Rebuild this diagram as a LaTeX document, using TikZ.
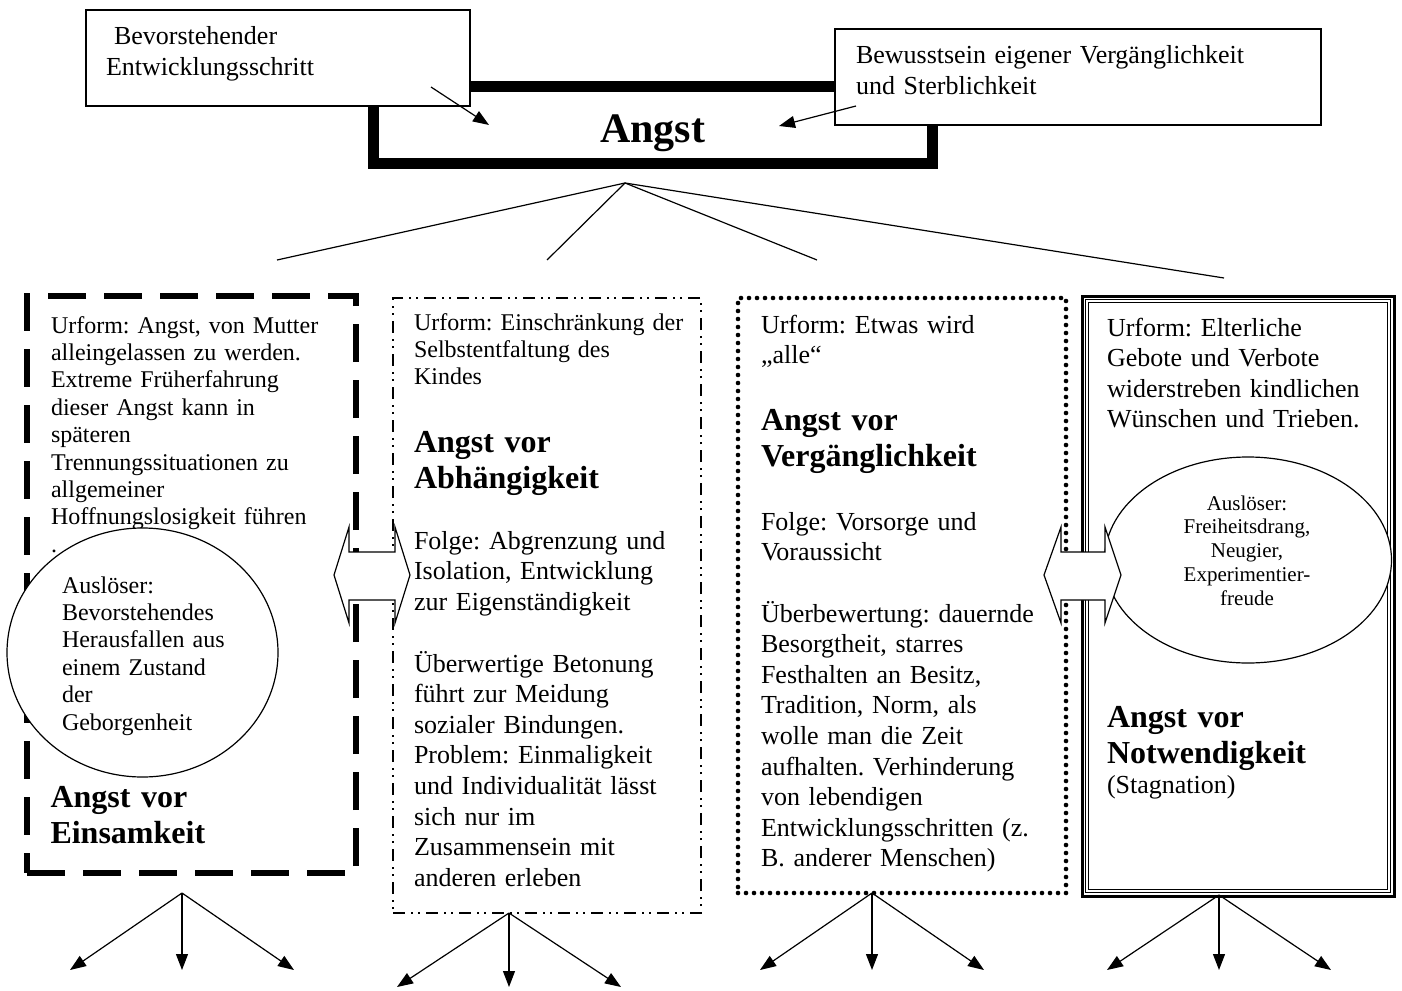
\documentclass[tikz,border=0pt]{standalone}
\usepackage{fontspec}
\setmainfont{Liberation Serif}
\usetikzlibrary{shapes.geometric, arrows.meta}
\frenchspacing

\begin{document}
\begin{tikzpicture}[x=0.5pt, y=-0.5pt,
  every node/.style={inner sep=0pt, outer sep=0pt},
  topbox/.style={draw, line width=0.6pt, fill=white},
  twelve/.style={anchor=base west, text width=200pt, align=left, font=\fontsize{12}{13.7}\selectfont},
  thirteen/.style={anchor=base west, text width=200pt, align=left, font=\fontsize{13}{15.3}\selectfont},
  heading/.style={anchor=base west, text width=200pt, align=left, font=\fontsize{16}{18}\selectfont\bfseries},
  bubble/.style={ellipse, draw, fill=white, line width=0.6pt},
  link/.style={line width=0.6pt},
  pointer/.style={line width=0.6pt, -{Triangle[length=8pt, width=6pt]}},
  twoway/.style={draw, fill=white, line width=0.6pt, line join=miter}]
\useasboundingbox (0,0) rectangle (1402,990);

% central box
\node[draw, line width=5.5pt, minimum width=279.5pt, minimum height=38pt] (angst) at (653,125) {};
\node[anchor=base west, font=\fontsize{21}{25}\selectfont\bfseries] (angstlabel) at (600,142) {Angst};

% triggers on top
\node[topbox, minimum width=192pt, minimum height=48pt] (steps) at (278,58) {};
\node[thirteen] (stepstext) at (106,45) {\hspace*{4pt}Bevorstehender\\Entwicklungsschritt};
\node[topbox, minimum width=243pt, minimum height=48pt] (mortal) at (1078,77) {};
\node[thirteen] (mortaltext) at (856,64) {Bewusstsein eigener Vergänglichkeit\\und Sterblichkeit};
\coordinate (stepsout) at (431,87);
\coordinate (stepsin) at (489,125);
\coordinate (mortalout) at (856,106);
\coordinate (mortalin) at (779,126);
\draw[pointer] (stepsout) -- (stepsin);
\draw[pointer] (mortalout) -- (mortalin);

% fan to the four forms
\coordinate (root) at (625,183);
\coordinate (fan1) at (277,260);
\coordinate (fan2) at (547,260);
\coordinate (fan3) at (817,260);
\coordinate (fan4) at (1224,278);
\foreach \i in {1,...,4}
  \draw[link] (root) -- (fan\i);

% panels
\node[draw, line width=3pt, dash pattern=on 19pt off 9pt, minimum width=164.5pt, minimum height=288.5pt] (lonely) at (191.5,584.5) {};
\node[draw, line width=0.6pt, dash pattern=on 6pt off 3pt on 1pt off 2.5pt on 1pt off 3pt, minimum width=154pt, minimum height=307.5pt] (depend) at (547,605.5) {};
\node[draw, line width=2.3pt, line cap=round, dash pattern=on 0pt off 4pt, minimum width=164pt, minimum height=297.5pt] (transient) at (902,595.5) {};
\node[draw, line width=1.5pt, minimum width=156pt, minimum height=300pt] (necessity) at (1238,596) {};
\draw[line width=0.5pt] ([shift={(3.5,3.5)}]necessity.north west) rectangle ([shift={(-3.5,-3.5)}]necessity.south east);
\draw[line width=0.5pt] ([shift={(6.5,6.5)}]necessity.north west) rectangle ([shift={(-6.5,-6.5)}]necessity.south east);

% panel 1
\node[twelve] (lonelyurform) at (51,333) {Urform: Angst, von Mutter\\alleingelassen zu werden.\\Extreme Früherfahrung\\dieser Angst kann in\\späteren\\Trennungssituationen zu\\allgemeiner\\Hoffnungslosigkeit führen\\.};
\node[bubble, minimum width=135.5pt, minimum height=124.5pt] (lonelytrigger) at (142.5,652.5) {};
\node[twelve] (lonelytriggertext) at (62,593) {Auslöser:\\Bevorstehendes\\Herausfallen aus\\einem Zustand\\der\\Geborgenheit};
\node[heading] (lonelyhead) at (50.5,807) {Angst vor\\Einsamkeit};

% panel 2
\node[twelve] (dependurform) at (414,330) {Urform: Einschränkung der\\Selbstentfaltung des\\Kindes};
\node[heading] (dependhead) at (414,452) {Angst vor\\Abhängigkeit};
\node[thirteen] (dependfolge) at (414,549) {Folge: Abgrenzung und\\Isolation, Entwicklung\\zur Eigenständigkeit};
\node[thirteen] (dependover) at (414,672) {Überwertige Betonung\\führt zur Meidung\\sozialer Bindungen.\\Problem: Einmaligkeit\\und Individualität lässt\\sich nur im\\Zusammensein mit\\anderen erleben};

% panel 3
\node[thirteen] (transienturform) at (761,333) {Urform: Etwas wird\\„alle“};
\node[heading] (transienthead) at (761,430) {Angst vor\\Vergänglichkeit};
\node[thirteen] (transientfolge) at (761,530) {Folge: Vorsorge und\\Voraussicht};
\node[thirteen] (transientover) at (761,622) {Überbewertung: dauernde\\Besorgtheit, starres\\Festhalten an Besitz,\\Tradition, Norm, als\\wolle man die Zeit\\aufhalten. Verhinderung\\von lebendigen\\Entwicklungsschritten (z.\\B. anderer Menschen)};

% panel 4
\node[thirteen] (necessityurform) at (1107,336) {Urform: Elterliche\\Gebote und Verbote\\widerstreben kindlichen\\Wünschen und Trieben.};
\node[bubble, minimum width=143.5pt, minimum height=103pt] (necessitytrigger) at (1248,560) {};
\node[anchor=base, text width=120pt, align=center, font=\fontsize{10.5}{11.9}\selectfont] (necessitytriggertext) at (1247,510) {Auslöser:\\Freiheitsdrang,\\Neugier,\\Experimentier-\\freude};
\node[heading] (necessityhead) at (1107,727) {Angst vor\\Notwendigkeit};
\node[thirteen] (necessitynote) at (1107,793) {(Stagnation)};

% two-way arrows between the panels
\draw[twoway] (334,575) -- (349,527) -- (349,552) -- (395,552) -- (395,527) -- (410,575)
  -- (395,623) -- (395,600) -- (349,600) -- (349,623) -- cycle;
\draw[twoway] (1044,575) -- (1061,527) -- (1061,552) -- (1105,552) -- (1105,527) -- (1121,575)
  -- (1105,623) -- (1105,600) -- (1061,600) -- (1061,623) -- cycle;

% arrows out of each panel
\foreach \ax/\ay/\ty [count=\i] in {182/893/970, 509/913/987, 872/893/970, 1219/895/970}{
  \coordinate (fork\i) at (\ax,\ay);
  \foreach \dx [count=\j] in {-112,0,112}{
    \coordinate (leaf\i\j) at (\ax+\dx,\ty);
    \draw[pointer] (fork\i) -- (leaf\i\j);
  }
}
\end{tikzpicture}
\end{document}
